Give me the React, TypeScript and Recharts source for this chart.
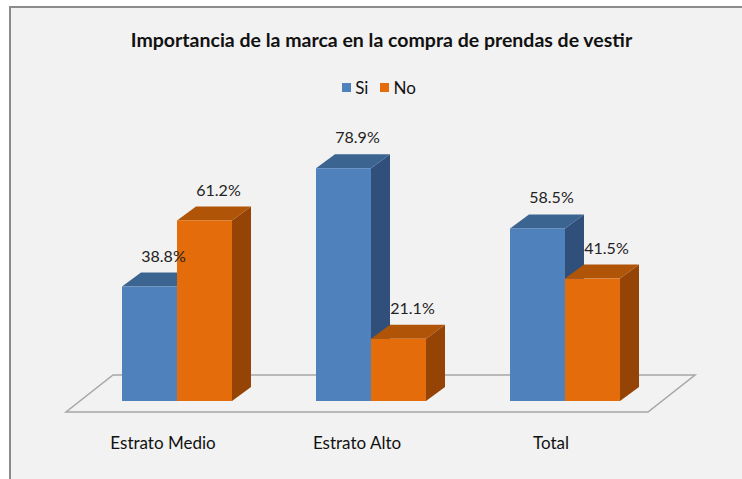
import React from 'react'
import { BarChart, Bar, XAxis, YAxis, Legend, LabelList, ReferenceArea } from 'recharts'

const categories = ['Estrato Medio', 'Estrato Alto', 'Total']
const siValues = [38.8, 78.9, 58.5]
const noValues = [61.2, 21.1, 41.5]
const seriesNames = ['Si', 'No']

const data = categories.map((name, i) => ({ name, si: siValues[i], no: noValues[i] }))

const FONT = 'Lato, "Open Sans", sans-serif'
const DX = 19
const DY = 14

const colors = {
  si: { front: '#4f81bd', top: '#3c6491', side: '#30507b' },
  no: { front: '#e46c0a', top: '#b05408', side: '#954406' },
}

function box(key: 'si' | 'no') {
  return (props: any) => {
    const { x, y, width: w, height: h } = props
    const c = colors[key]
    return (
      <g>
        <polygon
          points={`${x + w},${y} ${x + w + DX},${y - DY} ${x + w + DX},${y + h - DY} ${x + w},${y + h}`}
          fill={c.side}
        />
        <polygon
          points={`${x},${y} ${x + DX},${y - DY} ${x + w + DX},${y - DY} ${x + w},${y}`}
          fill={c.top}
        />
        <rect x={x} y={y} width={w} height={h} fill={c.front} />
      </g>
    )
  }
}

const Floor = (props: any) => {
  const { x, y, width, height } = props
  const base = y + height
  const pts = [
    [x - 14, base + 11],
    [x + width - 14, base + 11],
    [x + width + 33, base - 26],
    [x + 33, base - 26],
  ]
  return (
    <polygon
      points={pts.map(p => p.join(',')).join(' ')}
      fill="#f2f2f2"
      stroke="#a6a6a6"
      strokeWidth={1.5}
    />
  )
}

const ValueLabel = (props: any) => {
  const { x, y, width, value } = props
  return (
    <text
      x={x + width / 2 + 14}
      y={y - DY - 15}
      textAnchor="middle"
      dominantBaseline="middle"
      fontSize={16}
      fill="#222"
      fontFamily={FONT}
    >
      {value.toFixed(1)}%
    </text>
  )
}

const CategoryTick = (props: any) => {
  const { x, y, payload } = props
  return (
    <text x={x - 14} y={y + 44} textAnchor="middle" dominantBaseline="middle" fontSize={17} fill="#111" fontFamily={FONT}>
      {payload.value}
    </text>
  )
}

const LegendContent = () => (
  <div style={{ display: 'flex', justifyContent: 'center', alignItems: 'center', height: 20, paddingLeft: 16, fontFamily: FONT, fontSize: 17, color: '#111' }}>
    {seriesNames.map((n, i) => (
      <span key={n} style={{ display: 'flex', alignItems: 'center', marginRight: i === 0 ? 12 : 0 }}>
        <span style={{ width: 9, height: 9, background: i === 0 ? colors.si.front : colors.no.front, marginRight: 4 }} />
        {n}
      </span>
    ))}
  </div>
)

export default function App() {
  return (
    <div style={{ position: 'absolute', left: 0, top: 0, width: 742, height: 479, background: '#fff', overflow: 'hidden' }}>
      <div
        style={{
          position: 'absolute',
          left: 9,
          top: 6,
          width: 760,
          height: 500,
          background: '#f2f2f2',
          borderLeft: '2px solid #8c8c8c',
          borderTop: '2px solid #8c8c8c',
        }}
      />
      <div
        style={{
          position: 'absolute',
          left: 9,
          top: 28,
          width: 745,
          textAlign: 'center',
          fontFamily: FONT,
          fontWeight: 'bold',
          fontSize: 19.5,
          color: '#111',
        }}
      >
        Importancia de la marca en la compra de prendas de vestir
      </div>
      <div style={{ position: 'absolute', left: 0, top: 0 }}>
        <BarChart
          width={742}
          height={479}
          data={data}
          margin={{ top: 86, right: 80, left: 80, bottom: 38 }}
          barGap={0}
          barSize={55}
        >
          <XAxis dataKey="name" height={40} axisLine={false} tickLine={false} tickSize={0} tickMargin={0} tick={<CategoryTick />} interval={0} />
          <YAxis hide domain={[0, 100]} />
          <Legend verticalAlign="top" height={20} wrapperStyle={{ top: 77 }} content={<LegendContent />} />
          <ReferenceArea y1={0} y2={1} ifOverflow="visible" shape={<Floor />} />
          <Bar dataKey="si" name="Si" fill={colors.si.front} shape={box('si')} isAnimationActive={false}>
            <LabelList dataKey="si" content={<ValueLabel />} />
          </Bar>
          <Bar dataKey="no" name="No" fill={colors.no.front} shape={box('no')} isAnimationActive={false}>
            <LabelList dataKey="no" content={<ValueLabel />} />
          </Bar>
        </BarChart>
      </div>
    </div>
  )
}
